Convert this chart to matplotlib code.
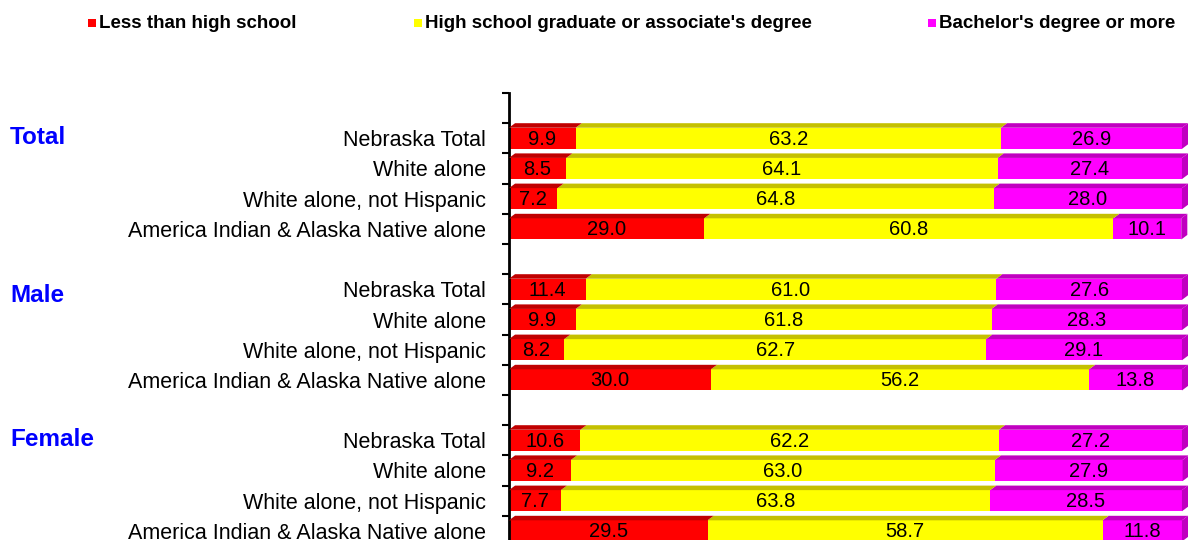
import numpy as np
import matplotlib.pyplot as plt
from matplotlib.patches import Polygon, Rectangle

plt.rcParams['font.family'] = ['Liberation Sans', 'DejaVu Sans']

# === Data ===
groups = ['Total', 'Male', 'Female']
races = ['Nebraska Total', 'White alone', 'White alone, not Hispanic',
         'America Indian & Alaska Native alone']
series = ['Less than high school', "High school graduate or associate's degree",
          "Bachelor's degree or more"]

less_hs = [9.9, 8.5, 7.2, 29.0, 11.4, 9.9, 8.2, 30.0, 10.6, 9.2, 7.7, 29.5]
hs_assoc = [63.2, 64.1, 64.8, 60.8, 61.0, 61.8, 62.7, 56.2, 62.2, 63.0, 63.8, 58.7]
bachelor = [26.9, 27.4, 28.0, 10.1, 27.6, 28.3, 29.1, 13.8, 27.2, 27.9, 28.5, 11.8]

front_colors = ['#FF0000', '#FFFF00', '#FF00FF']
top_colors = ['#C00000', '#C4C000', '#C000C0']

# === Layout ===
W, H = 1188, 540
fig = plt.figure(figsize=(W / 100, H / 100), dpi=100)
ax = fig.add_axes([509 / W, 1 - 546 / H, (W - 509) / W, 453 / H])

# slots: empty row before each group of 4
ypos = []
for g in range(len(groups)):
    base = g * 5 + 1
    ypos += [base + k for k in range(len(races))]
ypos = np.array(ypos)

vals = np.array([less_hs, hs_assoc, bachelor])
bh = 0.7
dx, dy = 0.9, 0.15

for i, y in enumerate(ypos):
    left = 0.0
    segs = []
    for j in range(3):
        segs.append((left, left + vals[j, i], j))
        left += vals[j, i]
    # draw right to left so the top faces overlap correctly
    for l, r, j in reversed(segs):
        ax.barh(y, r - l, left=l, height=bh, color=front_colors[j], zorder=2)
        top = Polygon([(l, y - bh / 2), (r, y - bh / 2), (r + dx, y - bh / 2 - dy),
                       (l + dx, y - bh / 2 - dy)], closed=True,
                      facecolor=top_colors[j], edgecolor='none', zorder=3)
        ax.add_patch(top)
        ax.text((l + r) / 2, y + 0.03, f'{vals[j, i]:.1f}', ha='center', va='center',
                fontsize=14.5, color='black', zorder=5)
    l, r, j = segs[-1]
    side = Polygon([(r, y - bh / 2), (r + dx, y - bh / 2 - dy), (r + dx, y + bh / 2 - dy),
                    (r, y + bh / 2)], closed=True, facecolor=top_colors[j],
                   edgecolor='none', zorder=3)
    ax.add_patch(side)

ax.set_xlim(0, 100 + dx)
ax.set_ylim(14.5, -0.5)

for s in ['top', 'right', 'bottom']:
    ax.spines[s].set_visible(False)
ax.spines['left'].set_linewidth(2)
ax.spines['left'].set_color('black')
ax.set_xticks([])

ax.set_yticks(ypos)
ax.set_yticklabels(races * len(groups), fontsize=15.5)
ax.tick_params(axis='y', which='major', length=0, pad=16.5)
ax.set_yticks(np.arange(-0.5, 15.0, 1.0), minor=True)
ax.tick_params(axis='y', which='minor', length=5, width=1.5, direction='out')

# group headings
for g, ypx in zip(groups, [137, 296, 439]):
    fig.text(10 / W, 1 - ypx / H, g, ha='left', va='center', fontsize=17.5,
             fontweight='bold', color='#0000FF')

# legend at top
leg_x = [88, 414, 928]
for x0, name, c in zip(leg_x, series, front_colors):
    fig.patches.append(Rectangle((x0 / W, 1 - 27 / H), 8 / W, 8 / H,
                                 transform=fig.transFigure, facecolor=c,
                                 edgecolor='none'))
    fig.text((x0 + 11) / W, 1 - 23.5 / H, name, ha='left', va='center',
             fontsize=13.5, fontweight='bold', color='black')

fig.savefig('out.png', dpi=100)
